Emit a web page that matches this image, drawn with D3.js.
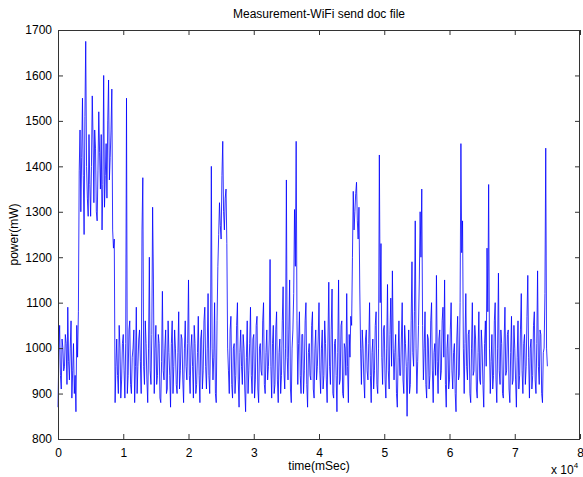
<!DOCTYPE html>
<html>
<head>
<meta charset="utf-8">
<script src="https://cdn.jsdelivr.net/npm/d3@7/dist/d3.min.js"></script>
<style>
  html, body { margin: 0; padding: 0; background: #fff; }
  svg { display: block; }
  text { font-family: "Liberation Sans", Arial, Helvetica, sans-serif; fill: #000; }
</style>
</head>
<body>
<svg id="chart" width="583" height="477"></svg>
<script>
// ---- data ----
const chartTitle = "Measurement-WiFi send doc file";
const xLabel = "time(mSec)";
const yLabel = "power(mW)";
const sampleStepMs = 125;           // spacing of the samples along time
const powerMw = [
  870, 990, 1050, 940, 910, 1020, 1000, 950, 960, 1030, 1010, 920, 1090, 970, 930, 1000, 1060, 890, 950, 1010,
  900, 940, 860, 1050, 980, 1080, 1390, 1480, 1300, 1420, 1550, 1380, 1250, 1510, 1675, 1400, 1330, 1290, 1470, 1360,
  1290, 1400, 1555, 1460, 1320, 1480, 1440, 1300, 1280, 1390, 1520, 1430, 1350, 1470, 1260, 1360, 1600, 1310, 1380, 1450,
  1330, 1500, 1590, 1370, 1420, 1480, 1570, 1260, 1220, 1240, 880, 960, 1020, 940, 900, 1050, 1000, 890, 930, 1010,
  1030, 950, 890, 1010, 1550, 900, 940, 1040, 1060, 920, 900, 980, 1000, 1040, 880, 960, 1090, 900, 960, 1020,
  1040, 970, 900, 1260, 1375, 960, 920, 1060, 1010, 930, 880, 1000, 1200, 950, 920, 1030, 1310, 1150, 900, 1000,
  1050, 920, 940, 1030, 1010, 890, 880, 970, 1125, 950, 930, 1000, 1040, 900, 910, 1060, 990, 940, 870, 1010,
  1060, 900, 960, 1040, 1000, 920, 900, 990, 1080, 910, 950, 1030, 1020, 930, 880, 1000, 1060, 960, 930, 1010,
  1150, 940, 900, 1000, 1030, 960, 890, 1050, 1010, 900, 920, 990, 1070, 940, 880, 1020, 1040, 910, 950, 1060,
  1090, 960, 910, 1000, 1120, 940, 900, 1020, 1400, 1000, 930, 980, 1100, 900, 880, 1060, 1180, 1250, 1320, 1270,
  1240, 1380, 1455, 1300, 1260, 1330, 1350, 1230, 1000, 950, 900, 1040, 1070, 920, 890, 1000, 1010, 900, 940, 1050,
  1100, 930, 870, 990, 1040, 960, 920, 1030, 1000, 910, 860, 980, 1060, 900, 950, 1010, 1090, 940, 900, 1020,
  1030, 890, 930, 1050, 1070, 910, 880, 1000, 1010, 950, 940, 1060, 1100, 920, 900, 990, 1040, 930, 960, 1020,
  1195, 960, 890, 1010, 1050, 900, 920, 1040, 1080, 930, 880, 990, 1020, 900, 940, 1060, 1135, 950, 910, 1000,
  1370, 980, 930, 1040, 1150, 910, 880, 1000, 1040, 1120, 1305, 1180, 1455, 1060, 920, 1010, 1080, 940, 900, 1030,
  1030, 900, 950, 1060, 1100, 920, 870, 990, 1010, 940, 930, 1050, 1080, 910, 890, 1000, 1040, 930, 960, 1020,
  1100, 950, 900, 1000, 1040, 910, 940, 1060, 1010, 930, 880, 1020, 1145, 960, 920, 1040, 1130, 900, 890, 1010,
  1020, 940, 860, 990, 1150, 920, 930, 1050, 1060, 900, 890, 1010, 1000, 940, 1120, 960, 880, 1030, 980, 1070,
  1050, 1200, 1345, 1260, 1300, 1340, 1365, 1280, 1240, 1310, 1130, 1000, 920, 1040, 1000, 930, 890, 1020, 1040, 950,
  930, 1010, 1100, 940, 880, 990, 1020, 910, 950, 1050, 1080, 920, 900, 1000, 1425, 1100, 1230, 980, 920, 1040,
  1050, 930, 890, 1000, 1140, 950, 910, 1030, 1110, 960, 1170, 1000, 930, 990, 1030, 900, 870, 980, 1060, 940,
  940, 1020, 1100, 930, 900, 1050, 1010, 960, 850, 970, 1040, 900, 920, 1060, 1190, 990, 960, 1080, 1280, 1000,
  900, 970, 1050, 1150, 1300, 1200, 1350, 1050, 930, 1000, 1080, 920, 890, 1030, 1020, 910, 940, 1060, 1100, 950,
  880, 990, 1010, 940, 1160, 970, 900, 1020, 1040, 930, 950, 1060, 1090, 980, 1150, 920, 870, 1000, 1030, 910,
  930, 1040, 1100, 950, 910, 990, 1010, 900, 860, 1020, 1070, 930, 940, 1100, 1450, 1210, 1280, 1000, 900, 1010,
  1120, 960, 930, 1030, 1040, 900, 880, 1000, 1100, 940, 950, 1050, 1020, 910, 890, 990, 1080, 930, 920, 1040,
  1000, 920, 870, 1010, 1060, 960, 1220, 1080, 1360, 1000, 900, 970, 1030, 910, 940, 1060, 1100, 930, 880, 1000,
  1165, 950, 920, 1040, 1010, 900, 890, 1020, 1090, 940, 950, 1030, 1040, 910, 880, 990, 1070, 920, 930, 1050,
  1000, 930, 870, 980, 1060, 910, 940, 1040, 1120, 950, 900, 1010, 1030, 920, 960, 1070, 1160, 980, 890, 1000,
  1020, 910, 940, 1050, 1080, 930, 900, 1010, 1170, 960, 920, 1040, 1030, 900, 880, 990, 1000, 1120, 1440, 1000,
  960
];
const xTicks = [0, 10000, 20000, 30000, 40000, 50000, 60000, 70000, 80000];
const xTickLabels = ["0", "1", "2", "3", "4", "5", "6", "7", "8"];
const yTicks = [800, 900, 1000, 1100, 1200, 1300, 1400, 1500, 1600, 1700];
const yTickLabels = ["800", "900", "1000", "1100", "1200", "1300", "1400", "1500", "1600", "1700"];
const xExponentLabel = "x 10";
const xExponent = "4";

// ---- layout ----
const W = 583, H = 477;
const m = { left: 58, right: 3, top: 30, bottom: 38 };
const plotW = W - m.left - m.right;   // 522
const plotH = H - m.top - m.bottom;   // 409

const svg = d3.select("#chart");
const x = d3.scaleLinear().domain([0, 80000]).range([m.left, m.left + plotW]);
const y = d3.scaleLinear().domain([800, 1700]).range([m.top + plotH, m.top]);

const axisColor = "#333";
const tickLen = 5;

// line
const pts = powerMw.map((v, i) => ({ t: i * sampleStepMs, v }));
const line = d3.line().x(d => x(d.t)).y(d => y(d.v));
svg.append("path")
  .datum(pts)
  .attr("d", line)
  .attr("fill", "none")
  .attr("stroke", "#0000ff")
  .attr("stroke-width", 0.8)
  .attr("stroke-linejoin", "miter");

// axes (MATLAB style: ticks inward on all four sides, box frame)
function styleAxis(g) {
  g.select(".domain").remove();
  g.selectAll(".tick line").attr("stroke", axisColor);
  g.selectAll(".tick text").attr("font-size", 12).attr("fill", "#000")
    .attr("font-family", "'Liberation Sans', Arial, sans-serif");
}

const xAxisB = d3.axisBottom(x).tickValues(xTicks)
  .tickFormat((d, i) => xTickLabels[i]).tickSizeInner(-tickLen).tickSizeOuter(0).tickPadding(9);
svg.append("g").attr("transform", `translate(0,${m.top + plotH})`).call(xAxisB).call(styleAxis);

const xAxisT = d3.axisTop(x).tickValues(xTicks).tickFormat("").tickSizeInner(-tickLen).tickSizeOuter(0);
svg.append("g").attr("transform", `translate(0,${m.top})`).call(xAxisT).call(styleAxis);

const yAxisL = d3.axisLeft(y).tickValues(yTicks)
  .tickFormat((d, i) => yTickLabels[i]).tickSizeInner(-tickLen).tickSizeOuter(0).tickPadding(6);
svg.append("g").attr("transform", `translate(${m.left},0)`).call(yAxisL).call(styleAxis);

const yAxisR = d3.axisRight(y).tickValues(yTicks).tickFormat("").tickSizeInner(-tickLen).tickSizeOuter(0);
svg.append("g").attr("transform", `translate(${m.left + plotW},0)`).call(yAxisR).call(styleAxis);

// frame
svg.append("rect")
  .attr("x", m.left + 0.5).attr("y", m.top + 0.5)
  .attr("width", plotW - 1).attr("height", plotH)
  .attr("fill", "none").attr("stroke", axisColor).attr("stroke-width", 1);

// title & labels
svg.append("text").attr("x", m.left + plotW / 2).attr("y", 18)
  .attr("text-anchor", "middle").attr("font-size", 12).text(chartTitle);

svg.append("text").attr("x", m.left + plotW / 2).attr("y", 470)
  .attr("text-anchor", "middle").attr("font-size", 12).text(xLabel);

svg.append("text")
  .attr("transform", `translate(18,${m.top + plotH / 2}) rotate(-90)`)
  .attr("text-anchor", "middle").attr("font-size", 12).text(yLabel);

const ex = svg.append("text").attr("x", 551).attr("y", 474).attr("font-size", 12);
ex.append("tspan").text(xExponentLabel);
ex.append("tspan").attr("dy", -6).attr("font-size", 8).text(xExponent);
</script>
</body>
</html>
